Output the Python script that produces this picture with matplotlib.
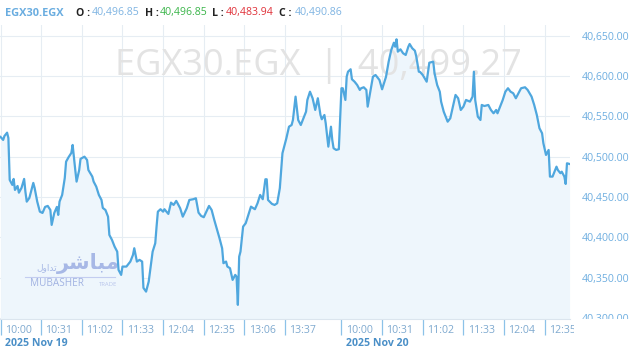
import matplotlib
matplotlib.use('Agg')
import matplotlib.pyplot as plt
from matplotlib.patches import Rectangle
from matplotlib.lines import Line2D

plt.rcParams['font.family'] = ['Open Sans', 'DejaVu Sans']

# ---------------- data ----------------
symbol = "EGX30.EGX"
ohlc_labels = ["O", "H", "L", "C"]
ohlc_values = [40496.85, 40496.85, 40483.94, 40490.86]
last_price = 40499.27

day_labels = ["2025 Nov 19", "2025 Nov 20"]
day1_ticks = ["10:00", "10:31", "11:02", "11:33", "12:04", "12:35", "13:06", "13:37"]
day2_ticks = ["10:00", "10:31", "11:02", "11:33", "12:04", "12:35"]

# minutes after 10:00 for each session
day1_minutes = [0, 2, 3, 5, 6, 7, 9, 10, 11, 13, 14, 16, 18, 19, 20, 22, 25, 26, 28, 30,
                32, 34, 36, 38, 39, 41, 43, 44, 45, 47, 49, 50, 52, 54, 55, 56, 57, 58, 60, 61,
                64, 66, 67, 70, 71, 73, 75, 77, 78, 80, 82, 83, 85, 87, 89, 90, 92, 93, 96, 99,
                101, 102, 104, 106, 108, 109, 111, 113, 114, 116, 118, 119, 120, 122, 124, 125, 128, 130, 132, 134,
                135, 137, 139, 142, 144, 147, 149, 151, 153, 155, 157, 159, 161, 163, 165, 167, 169, 170, 172, 173,
                175, 177, 179, 180, 181, 182, 183, 185, 187, 189, 191, 194, 196, 198, 200, 202, 203, 204, 207, 209,
                211, 213, 215, 217, 218, 220, 222, 223, 225, 227, 229, 231, 233, 234, 236, 238, 240, 242, 244, 245,
                247, 248, 250, 252, 253, 254, 256, 258]
day1_values = [40524.4, 40520.7, 40525.6, 40529.7, 40523.1, 40471.2, 40465.0, 40472.4, 40458.8, 40463.7,
               40455.4, 40461.3, 40472.4, 40456.3, 40444.3, 40448.9, 40467.5, 40461.3, 40444.3, 40431.9,
               40430.3, 40437.8, 40439.0, 40434.0, 40415.5, 40430.3, 40437.8, 40427.9, 40444.3, 40452.6,
               40473.6, 40493.8, 40499.6, 40504.6, 40514.5, 40498.4, 40483.5, 40469.1, 40483.5, 40497.2,
               40500.0, 40495.9, 40483.5, 40475.3, 40469.1, 40462.9, 40452.6, 40446.4, 40436.5, 40434.0,
               40425.7, 40403.1, 40396.9, 40388.6, 40382.4, 40359.8, 40353.6, 40363.9, 40363.9, 40370.1,
               40378.3, 40386.6, 40370.1, 40372.2, 40370.1, 40337.5, 40332.9, 40345.3, 40357.7, 40382.4,
               40392.8, 40413.4, 40431.9, 40434.9, 40431.9, 40434.9, 40429.1, 40443.1, 40440.2, 40445.2,
               40442.3, 40436.1, 40425.7, 40436.1, 40446.4, 40447.3, 40448.5, 40430.7, 40426.6, 40425.0,
               40431.9, 40439.0, 40434.0, 40421.7, 40410.2, 40399.0, 40386.6, 40368.1, 40370.1, 40363.9,
               40361.9, 40347.4, 40353.6, 40351.5, 40316.5, 40376.2, 40382.4, 40413.4, 40417.6, 40427.9,
               40438.1, 40434.9, 40442.3, 40452.6, 40447.3, 40472.0, 40472.0, 40446.4, 40441.5, 40440.2,
               40442.3, 40460.9, 40504.2, 40516.6, 40522.8, 40537.1, 40539.2, 40545.4, 40574.3, 40545.4,
               40539.2, 40547.5, 40555.7, 40570.2, 40580.4, 40572.3, 40557.8, 40572.3, 40551.6, 40546.3,
               40551.6, 40541.3, 40512.4, 40537.1, 40520.7, 40510.4, 40508.3, 40509.2]

day2_minutes = [0, 1, 3, 4, 5, 7, 8, 10, 12, 14, 15, 17, 19, 20, 22, 24, 26, 27, 29, 31,
                32, 34, 36, 38, 40, 41, 42, 43, 45, 47, 49, 51, 52, 54, 56, 57, 59, 60, 62, 65,
                67, 70, 71, 73, 75, 76, 78, 80, 81, 83, 85, 87, 89, 91, 93, 95, 98, 100, 101, 102,
                104, 106, 107, 109, 112, 114, 116, 118, 119, 121, 123, 125, 127, 129, 131, 133, 135, 137, 140, 142,
                145, 147, 149, 151, 153, 154, 156, 158, 159, 161, 164, 165, 167, 168, 170, 171, 172, 174]
day2_values = [40584.7, 40584.7, 40570.2, 40599.0, 40605.2, 40608.2, 40595.8, 40592.8, 40588.7, 40582.6,
               40584.7, 40585.9, 40582.6, 40561.9, 40580.4, 40599.0, 40601.1, 40599.0, 40594.9, 40583.4,
               40588.7, 40599.0, 40617.6, 40632.1, 40641.1, 40636.1, 40645.3, 40630.0, 40632.9, 40628.0,
               40625.9, 40636.1, 40639.5, 40634.2, 40631.2, 40624.6, 40605.2, 40604.8, 40601.1, 40592.8,
               40616.3, 40617.6, 40603.2, 40588.7, 40580.4, 40568.1, 40555.7, 40547.5, 40543.3, 40547.5,
               40561.9, 40576.4, 40572.3, 40557.8, 40561.9, 40570.2, 40568.1, 40574.3, 40605.2, 40570.2,
               40549.5, 40545.4, 40564.0, 40562.7, 40564.0, 40557.8, 40553.7, 40557.8, 40553.7, 40561.9,
               40570.2, 40580.4, 40584.7, 40580.4, 40578.5, 40572.3, 40578.5, 40584.7, 40585.9, 40582.6,
               40574.3, 40564.0, 40551.6, 40535.2, 40529.0, 40516.6, 40502.1, 40508.3, 40475.3, 40475.3,
               40487.6, 40483.5, 40479.5, 40481.4, 40475.3, 40466.2, 40491.8, 40490.9]

y_ticks = [40300, 40350, 40400, 40450, 40500, 40550, 40600, 40650]

assert len(day1_minutes) == len(day1_values)
assert len(day2_minutes) == len(day2_values)

# ---------------- layout / style ----------------
DAY2_START = 260          # ordinal position where session 2 begins
W, H = 640, 350
LINE = '#4fa7de'
FILL = '#eef6fc'
GRID = '#e6edf3'
TICKC = '#8cc2e8'
XLAB = '#7ea9cf'
YLAB = '#6eaee0'


def mins(t):
    h, m = t.split(':')
    return (int(h) - 10) * 60 + int(m)


x_all = list(day1_minutes) + [DAY2_START + m for m in day2_minutes]
y_all = list(day1_values) + list(day2_values)

fig = plt.figure(figsize=(W / 100, H / 100), dpi=100)
ax = fig.add_axes([0, 31 / H, 570 / W, 294 / H])
ax.set_xlim(-0.4, 434.3)
ax.set_ylim(40299, 40663)

for s in ['left', 'right', 'top']:
    ax.spines[s].set_visible(False)
ax.spines['bottom'].set_color('#dbe5ee')
ax.spines['bottom'].set_linewidth(0.8)

# fill + line
ax.fill_between(x_all, y_all, 40299, color=FILL, zorder=1.5, linewidth=0)
ax.plot(x_all, y_all, color=LINE, linewidth=1.6, zorder=3, solid_joinstyle='round')

# x ticks
tick_pos = [mins(t) for t in day1_ticks] + [DAY2_START + mins(t) for t in day2_ticks]
tick_txt = day1_ticks + day2_ticks
ax.set_xticks(tick_pos)
ax.set_xticklabels([])
ax.set_xticks([0, DAY2_START], minor=True)
ax.tick_params(axis='x', which='major', length=11.5, width=0.9, color=TICKC, direction='out')
ax.tick_params(axis='x', which='minor', length=21, width=0.9, color=TICKC, direction='out')
ax.grid(True, axis='x', color=GRID, linewidth=0.8, zorder=0)
ax.grid(True, axis='y', color=GRID, linewidth=0.8, zorder=0)
ax.set_axisbelow(True)

for p, t in zip(tick_pos, tick_txt):
    ax.annotate(t, xy=(p, 0), xycoords=('data', 'axes fraction'), xytext=(3.0, -8.2),
                textcoords='offset points', ha='left', va='center', fontsize=7.6,
                color=XLAB, annotation_clip=False)
for p, t in zip([0, DAY2_START], day_labels):
    ax.annotate(t, xy=(p, 0), xycoords=('data', 'axes fraction'), xytext=(3.0, -17.8),
                textcoords='offset points', ha='left', va='center', fontsize=7.6,
                color='#4a8fc7', fontweight='bold', annotation_clip=False)

# y axis on the right
ax.yaxis.tick_right()
ax.set_yticks(y_ticks)
ax.set_yticklabels([f"{v:,.2f}" for v in y_ticks])
ax.tick_params(axis='y', length=0, pad=8.6, labelsize=7.6, labelcolor=YLAB)

# cover the lower part of the bottom price label
fig.add_artist(Rectangle((574 / W, 0), 66 / W, (H - 318.5) / H, transform=fig.transFigure,
                         facecolor='white', edgecolor='none', zorder=10))

# big watermark
ax.text(318 / 570, 1 - (66 - 25) / 294, f"{symbol}  |  {last_price:,.2f}",
        transform=ax.transAxes, ha='center', va='center', fontsize=26,
        color='#e3e3e3', zorder=2)

# logo watermark
lx = lambda px: px / 570
ly = lambda py: 1 - (py - 25) / 294
ax.text(lx(88), ly(264), "\uFEAE\uFEB7\uFE8E\uFE92\uFEE3", transform=ax.transAxes,
        ha='center', va='center', fontsize=15, color='#a7b8e6', zorder=2,
        family=['DejaVu Sans'], fontweight='bold')
ax.text(lx(47), ly(268), "\uFEDD\uFEED\uFE8D\uFEAA\uFE97", transform=ax.transAxes,
        ha='center', va='center', fontsize=6.5, color='#a7b8e6', zorder=2,
        family=['DejaVu Sans'])
ax.add_line(Line2D([lx(25), lx(115)], [ly(277), ly(277)], transform=ax.transAxes,
                   color='#c3cdf0', linewidth=0.8, zorder=2))
ax.text(lx(30), ly(284), "MUBASHER", transform=ax.transAxes, ha='left', va='center',
        fontsize=7.2, color='#a2b3e2', zorder=2)
ax.text(lx(99), ly(284.5), "TRADE", transform=ax.transAxes, ha='left', va='center',
        fontsize=4.2, color='#b8c5ec', zorder=2)

# header
hy = 1 - 13 / H
fig.text(5 / W, hy, symbol, ha='left', va='center', fontsize=7.9, fontweight='bold',
         color='#6aade0')
val_colors = ['#7fb4e2', '#3bb54a', '#e0323a', '#7fb4e2']
lab_x = [76, 145, 212, 279]
val_x = [92, 160, 226, 295]
for lab, v, c, xl, xv in zip(ohlc_labels, ohlc_values, val_colors, lab_x, val_x):
    fig.text(xl / W, hy, f"{lab} :", ha='left', va='center', fontsize=7.6,
             fontweight='bold', color='#222222')
    fig.text(xv / W, hy, f"{v:,.2f}", ha='left', va='center', fontsize=7.6, color=c)

fig.savefig('out.png', dpi=100, facecolor='white')
